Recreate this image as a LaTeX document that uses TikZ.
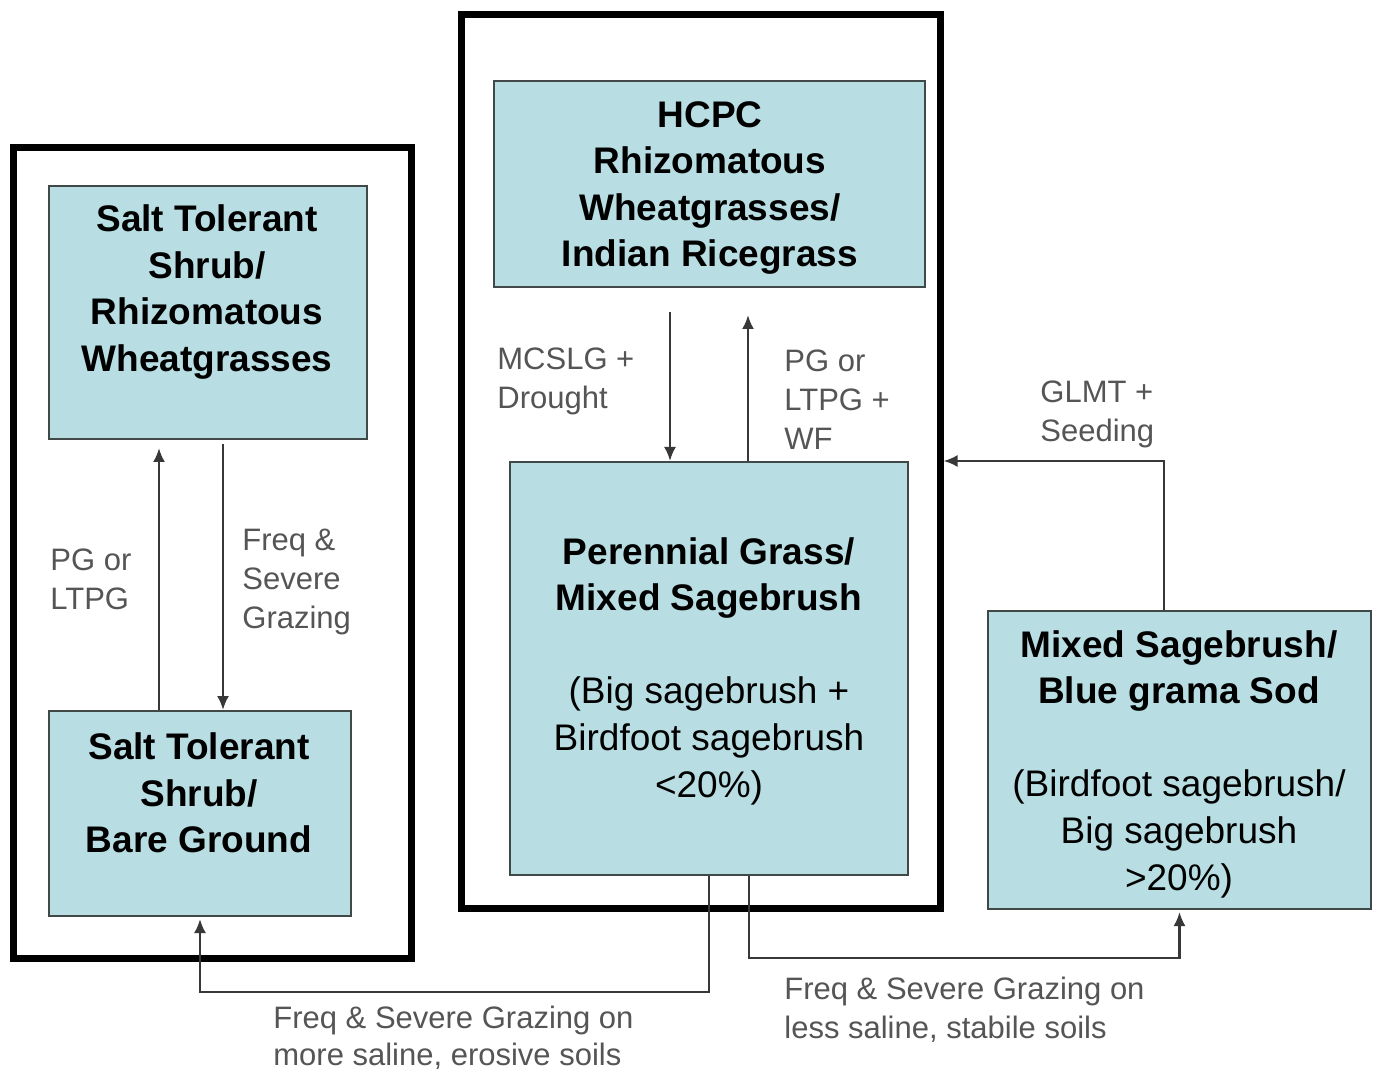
\documentclass[tikz,border=0pt]{standalone}
\usepackage{fontspec}
\setmainfont{Liberation Sans}
\usetikzlibrary{fit,arrows.meta}
\definecolor{boxfill}{HTML}{B8DEE3}
\definecolor{boxline}{HTML}{404848}
\definecolor{labelgray}{HTML}{555555}
\definecolor{arrowgray}{HTML}{383838}
\begin{document}
\begin{tikzpicture}[x=0.5pt,y=-0.5pt,
  frame/.style={draw=black,line width=3.5pt,inner sep=0pt},
  statebox/.style={draw=boxline,fill=boxfill,line width=1pt,inner sep=0pt},
  boxtext/.style={align=center,inner sep=0pt,font=\fontsize{18.5}{23.3}\selectfont},
  lbl/.style={align=left,inner sep=0pt,anchor=west,text=labelgray,font=\fontsize{15.5}{19.5}\selectfont},
  arr/.style={draw=arrowgray,line width=1.2pt,-{Latex[length=7pt,width=6pt]}}]
\useasboundingbox[fill=white] (0,0) rectangle (1375,1074);

% frames
\node[frame,fit={(13.5,148) (411,958)}] (frameL) {};
\node[frame,fit={(461,15) (940,908)}] (frameC) {};

% boxes
\node[statebox,fit={(49,186) (367,439)}] (boxA) {};
\node[statebox,fit={(49,711) (351,916)}] (boxB) {};
\node[statebox,fit={(494,81) (925,287)}] (hcpc) {};
\node[statebox,fit={(510,462) (908,875)}] (peren) {};
\node[statebox,fit={(988,611) (1371,909)}] (mixed) {};

% box texts
\node[boxtext,font=\fontsize{18.5}{23.3}\selectfont\bfseries] (tA) at (207,292)
  {Salt Tolerant\\Shrub/\\Rhizomatous\\Wheatgrasses};
\node[boxtext,font=\fontsize{18.5}{23.3}\selectfont\bfseries] (tB) at (199,793)
  {Salt Tolerant\\Shrub/\\Bare Ground};
\node[boxtext,font=\fontsize{18.5}{23.3}\selectfont\bfseries] (tH) at (710,188)
  {HCPC\\Rhizomatous\\Wheatgrasses/\\Indian Ricegrass};
\node[boxtext] (tP) at (709,671)
  {\textbf{Perennial Grass/}\\\textbf{Mixed Sagebrush}\\[23.3pt](Big sagebrush +\\Birdfoot sagebrush\\<20\%)};
\node[boxtext] (tM) at (1179,764)
  {\textbf{Mixed Sagebrush/}\\\textbf{Blue grama Sod}\\[23.3pt](Birdfoot sagebrush/\\Big sagebrush\\>20\%)};

% labels
\node[lbl] (l1) at (50,579) {PG or\\LTPG};
\node[lbl] (l2) at (242,582) {Freq \&\\Severe\\Grazing};
\node[lbl] (l3) at (497,381) {MCSLG +\\Drought};
\node[lbl] (l4) at (784,400) {PG or\\LTPG +\\WF};
\node[lbl] (l5) at (1040,414) {GLMT +\\Seeding};
\node[lbl,font=\fontsize{15.5}{18.5}\selectfont] (l6) at (273,1038) {Freq \& Severe Grazing on\\more saline, erosive soils};
\node[lbl] (l7) at (784,1010) {Freq \& Severe Grazing on\\less saline, stabile soils};

% helper coordinates
\coordinate (lu) at (159,0);
\coordinate (ld) at (223,0);
\coordinate (cd) at (670,0);
\coordinate (cu) at (748,0);
\coordinate (gx) at (1164,0);
\coordinate (bl) at (709,992);
\coordinate (br) at (749,958);

% connectors
\draw[arr,shorten >=4pt] (lu |- boxB.north) -- (lu |- boxA.south);
\draw[arr,shorten <=2pt] (ld |- boxA.south) -- (ld |- boxB.north);
\draw[arr,shorten <=12pt] (cd |- hcpc.south) -- (cd |- peren.north);
\draw[arr,shorten >=13.5pt] (cu |- peren.north) -- (cu |- hcpc.south);
\draw[arr] (gx |- mixed.north) |- (frameC.east |- peren.north);
\draw[arr,shorten >=1pt] (bl |- peren.south) -- (bl) -| (boxB.south);
\draw[arr,shorten >=1pt] (br |- peren.south) -- (br) -| (mixed.south);
\end{tikzpicture}
\end{document}
